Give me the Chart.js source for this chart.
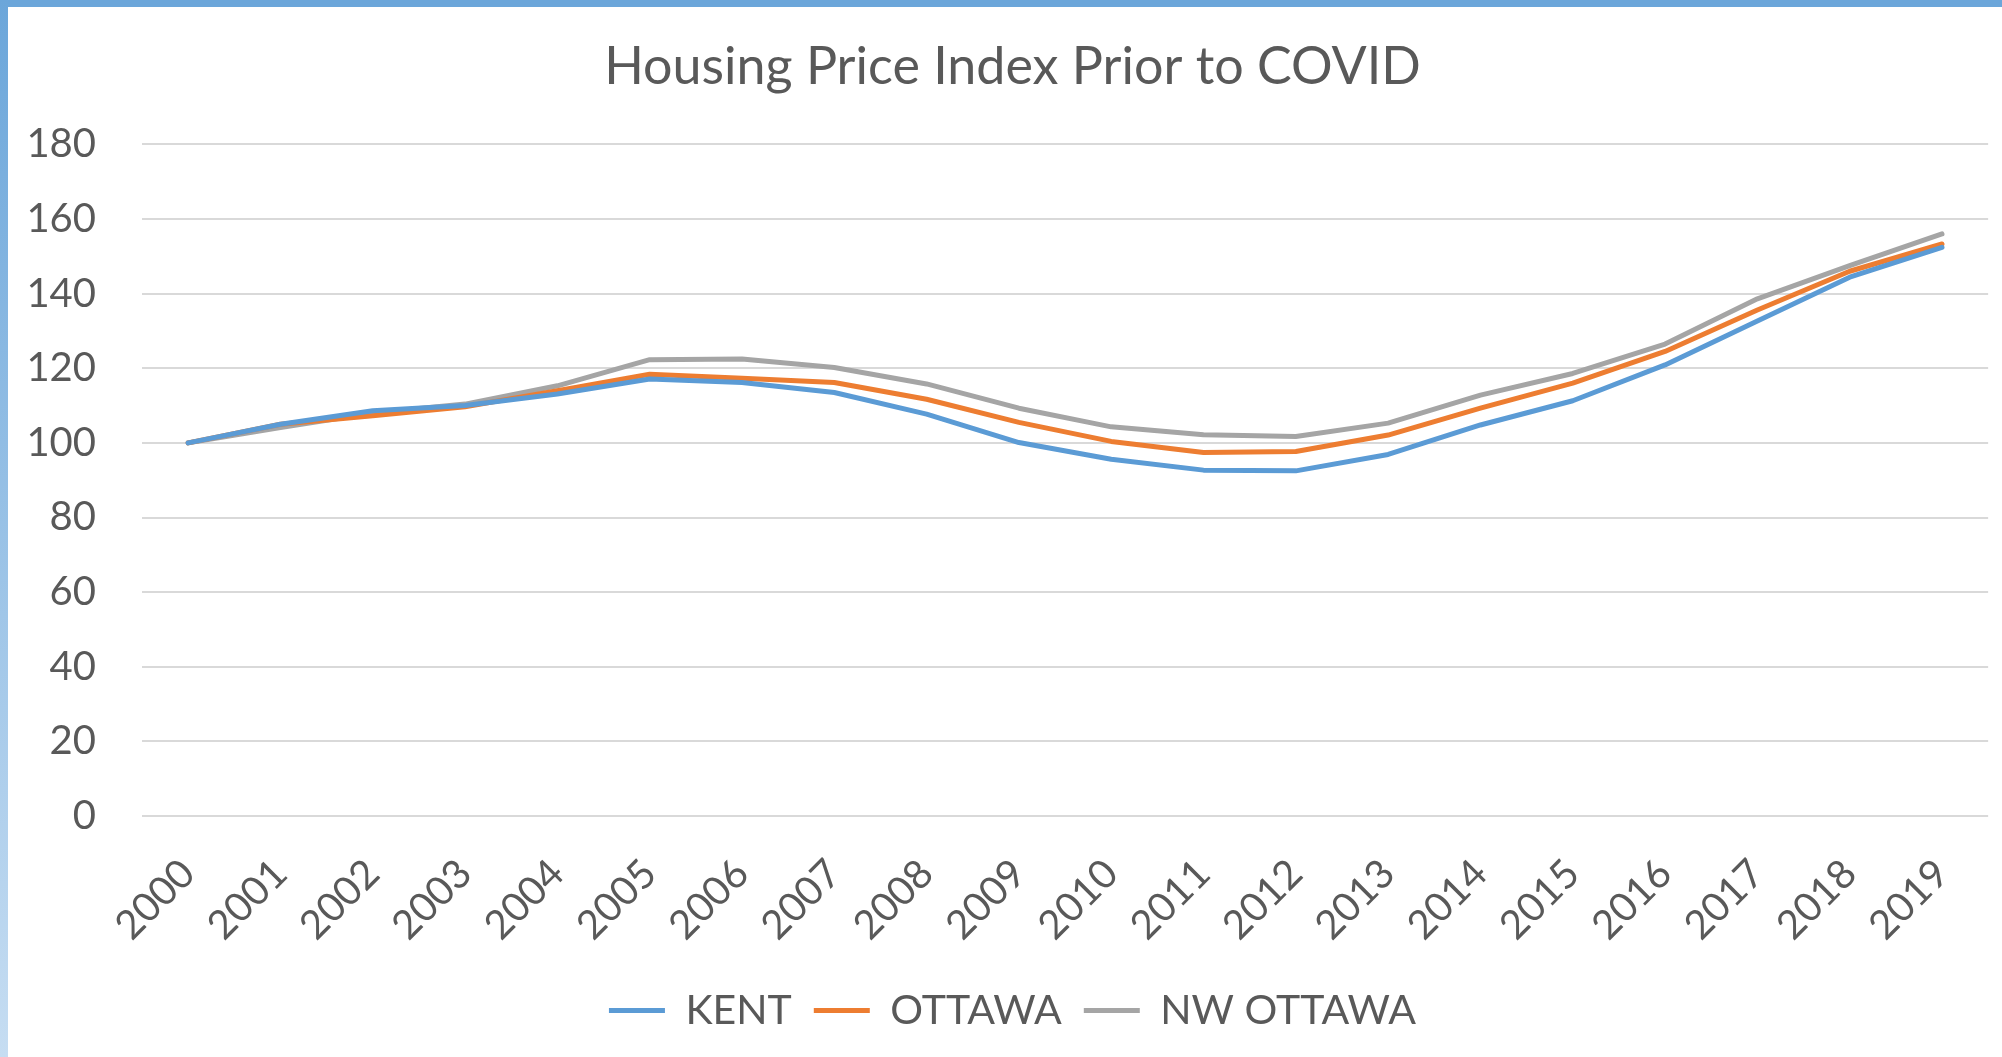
<!DOCTYPE html>
<html>
<head>
<meta charset="utf-8">
<script src="https://cdn.jsdelivr.net/npm/chart.js@4/dist/chart.umd.min.js"></script>
<style>
  html, body { margin: 0; padding: 0; background: #fff; }
  #wrap { position: relative; width: 2002px; height: 1057px; overflow: hidden; }
  #chart { position: absolute; left: 0; top: 0; }
  #edgeTop { position: absolute; left: 0; top: 0; width: 2002px; height: 7px; background: #6ba6da; }
  #edgeLeft { position: absolute; left: 0; top: 0; width: 8px; height: 1057px; background: linear-gradient(#6ba6da, #c6ddf2); }
</style>
</head>
<body>
<div id="wrap">
  <canvas id="chart" width="2002" height="1057"></canvas>
  <div id="edgeTop"></div>
  <div id="edgeLeft"></div>
</div>
<script>
const years = ["2000", "2001", "2002", "2003", "2004", "2005", "2006", "2007", "2008", "2009",
  "2010", "2011", "2012", "2013", "2014", "2015", "2016", "2017", "2018", "2019"];
const kent = [100, 105, 108.6, 110, 113.1, 117.1, 116.2, 113.5, 107.7, 100.1,
  95.6, 92.7, 92.5, 96.9, 104.8, 111.3, 120.9, 132.7, 144.4, 152.4];
const ottawa = [100, 105, 107.3, 109.7, 114, 118.4, 117.3, 116.2, 111.7, 105.5,
  100.4, 97.4, 97.7, 102.1, 109.3, 116, 124.5, 135.6, 146, 153.3];
const nwOttawa = [100, 104.1, 108, 110.4, 115.3, 122.3, 122.5, 120.2, 115.8, 109.3,
  104.3, 102.2, 101.7, 105.3, 112.8, 118.6, 126.5, 138.6, 147.5, 156];
const yMin = 0;
const yMax = 180;
const yStep = 20;

const textColor = "#595959";
const font = "Lato";

function series(label, values, color) {
  return {
    label: label,
    data: values,
    borderColor: color,
    backgroundColor: color,
    borderWidth: 5,
    borderCapStyle: "round",
    borderJoinStyle: "round",
    pointStyle: "line",
    pointRadius: 0,
    tension: 0,
  };
}

new Chart(document.getElementById("chart"), {
  type: "line",
  data: {
    labels: years,
    datasets: [
      series("KENT", kent, "#5b9bd5"),
      series("OTTAWA", ottawa, "#ed7d31"),
      series("NW OTTAWA", nwOttawa, "#a5a5a5"),
    ],
  },
  options: {
    responsive: false,
    animation: false,
    layout: {
      padding: { left: 26, right: 3, top: 0, bottom: 16 },
    },
    plugins: {
      tooltip: { enabled: false },
      title: {
        display: true,
        text: "Housing Price Index Prior to COVID",
        color: textColor,
        font: { family: font, size: 52, weight: "normal", lineHeight: 1.2 },
        padding: { top: 36, bottom: 46 },
      },
      legend: {
        position: "bottom",
        labels: {
          usePointStyle: true,
          pointStyleWidth: 56,
          boxHeight: 5,
          padding: 22,
          color: textColor,
          font: { family: font, size: 41 },
        },
      },
    },
    scales: {
      x: {
        offset: true,
        border: { display: false },
        grid: { display: false },
        ticks: {
          color: textColor,
          font: { family: font, size: 40 },
          minRotation: 45,
          maxRotation: 45,
          padding: 26,
          autoSkip: false,
        },
        afterFit: (scale) => {
          scale.height = 152;
        },
      },
      y: {
        min: yMin,
        max: yMax,
        border: { display: false },
        grid: { color: "#d9d9d9", lineWidth: 2, drawTicks: false },
        ticks: {
          stepSize: yStep,
          color: textColor,
          font: { family: font, size: 40 },
          padding: 46,
        },
        afterFit: (scale) => {
          scale.width = 116;
        },
      },
    },
  },
});
</script>
</body>
</html>
